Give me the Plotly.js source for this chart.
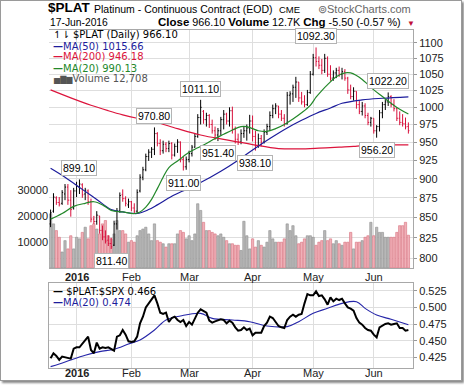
<!DOCTYPE html>
<html><head><meta charset="utf-8">
<script src="https://cdn.plot.ly/plotly-3.0.1.min.js"></script>
<style>
body{margin:0;background:#fff}
#wrap{position:relative;width:464px;height:387px;overflow:hidden}
#chart{position:absolute;left:0;top:0;width:464px;height:387px}
#frame{position:absolute;left:0;top:0;width:460px;height:379px;border:1px solid #9a9a9a;box-shadow:2px 2px 2px #8a8a8a;pointer-events:none}
</style>
</head><body>
<div id="wrap"><div id="chart"></div><div id="frame"></div></div>
<script>
// ---- trading days ----
const dec15=[18,21,22,23,24,28,29,30,31];
const jan16=[4,5,6,7,8,11,12,13,14,15,19,20,21,22,25,26,27,28,29];
const feb16=[1,2,3,4,5,8,9,10,11,12,16,17,18,19,22,23,24,25,26,29];
const mar16=[1,2,3,4,7,8,9,10,11,14,15,16,17,18,21,22,23,24,28,29,30,31];
const apr16=[1,4,5,6,7,8,11,12,13,14,15,18,19,20,21,22,25,26,27,28,29];
const may16=[2,3,4,5,6,9,10,11,12,13,16,17,18,19,20,23,24,25,26,27,31];
const jun16=[1,2,3,6,7,8,9,10,13,14,15,16,17];
const monthLabels=['<b>2016</b>','Feb','Mar','Apr','May','Jun'];

// ---- daily OHLC ($PLAT) ----
const opens=[842,858,875,869,868,880,889,872,862,884,889,892,880,884,870,848,845,852,834,826,822,818,816,842,858,879,874,866,870,862,
858,884,902,912,930,936,940,962,948,938,947,941,948,932,944,950,926,916,926,934,943,958,985,994,982,988,975,966,960,966,
982,990,980,995,968,954,950,962,966,970,980,958,945,955,950,964,972,988,998,1002,990,984,976,1018,1020,1030,1038,1014,1008,1004,
1022,1050,1076,1070,1064,1056,1075,1050,1044,1052,1056,1050,1054,1044,1026,1016,1024,1004,994,1002,988,978,984,966,972,992,1004,1008,1016,1004,
998,984,978,976,972];
const highs=[860,881,877,876,885,893,893,885,888,896,899.1,894,888,886,874,852,858,852,840,834,828,825,846,862,882,886,877,874,871,868,
886,906,916,934,940,943,970.8,964,954,952,950,952,950,948,954,951,930,930,938,946,962,990,1011.1,996,992,990,982,972,970,986,
996,992,1000,1001,972,962,968,972,975,989,988,966,962,960,968,976,994,1004,1006,1002,996,990,1023,1024,1034,1046,1038,1023,1018,1026,
1055,1082,1092.3,1078,1074,1082,1078,1064,1056,1060,1062,1060,1058,1046,1034,1030,1024,1010,1008,1006,992,986,984,974,996,1008,1012,1022.2,1018,1012,
1000,994,990,985,978];
const lows=[838,856,866,864,866,872,866,851,860,876,880,875,872,866,844,842,841,830,822,818,815,811.4,815,835,856,870,864,862,858,855,
855,882,898,910,924,928,932,944,932,934,936,936,926,930,935,922,911,912,922,930,942,956,975,976,972,970,962,953,951.4,960,
968,975,972,962,948,946,947,956,952,962,951,938.1,942,944,948,960,966,984,990,984,980,972,975,1004,1008,1014,1008,1004,1000,1002,
1020,1048,1062,1058,1050,1052,1046,1040,1040,1044,1046,1042,1040,1020,1012,1010,998,990,988,984,974,972,962,956.2,965,984,996,1002,1000,994,
980,974,972,968,962];
const closes=[856,876,869,867,882,889,872,860,884,890,893,879,885,870,848,845,853,834,826,821,818,814,842,858,878,874,868,870,862,858,
882,902,912,930,936,940,962,948,938,947,941,948,932,944,950,926,916,926,934,943,958,985,1000,982,988,975,966,960,966,982,
990,980,995,968,954,950,962,966,970,980,958,945,955,950,964,972,988,998,1002,990,984,976,1018,1020,1030,1038,1014,1008,1004,1022,
1050,1076,1070,1064,1056,1075,1050,1044,1052,1056,1050,1054,1044,1026,1016,1024,1004,994,1002,988,978,984,966,972,992,1004,1008,1016,1004,998,
984,978,976,971.6,966.1];
const volumes=[21000,17100,14500,11900,6200,10600,7400,12500,7400,11900,
11300,13800,15800,11300,16400,17100,15100,13200,17100,18400,
12500,11300,13200,18400,14500,14500,13200,10000,10600,10000,
12500,14500,15100,15800,13200,10600,17100,10600,10000,9400,
8100,9400,9400,9400,13200,14500,13800,11300,12500,10600,
13200,24900,22300,17700,14500,14500,13800,13200,12500,13200,
11900,10600,9400,9400,8800,8800,6800,18100,12500,7400,
11300,8100,10600,8800,8100,10000,14500,11300,10000,10000,
10000,11300,17100,14500,16400,12500,9400,10000,11300,12500,
12500,11900,8800,10000,10600,14500,10600,11300,9400,10600,
9400,8800,10000,10000,13800,7400,10000,10000,10600,11900,
12500,17700,12500,15800,13800,13800,11900,11900,11900,11900,
13800,16400,16400,17700,12708];

// ---- moving averages (day index, value) ----
const ma50Idx=[0,5,11,16,21,25,30,34,37,42,47,52,59,65,70,76,82,87,92,97,101,108,115,124];
const ma50Val=[914,902,886,873,860,857,855,860,866,877,886,895,910,925,939,955,970,981,991,999,1006,1011,1013.5,1015.66];
const ma200Idx=[0,7,14,20,25,30,36,44,52,61,70,79,86,93,100,105,113,118,124];
const ma200Val=[1026,1014,1003,995,989,984,979,969,960,953,946.5,941,940.5,941.5,943,944,946.5,946,946.18];
const ma20Idx=[0,4,8,12,15,18,21,25,29,31,33,35,37,39,41,44,46,48,51,54,57,60,63,66,68,70,72,75,78,81,84,87,90,92,94,96,99,102,104,106,108,110,112,115,118,121,124];
const ma20Val=[848,855,864,868,870,866,859,857,855,857,863,873,887,902,915,924,930,936,942,948,955,961,967,972,972,969,966,965,969,975,983,992,1003,1015,1025,1034,1046,1052,1052,1048,1042,1034,1026,1016,1006,997,990.13];

// ---- $PLAT:$SPX ratio ----
const ratio=[0.4235,0.431,0.427,0.421,0.426,0.425,0.424,0.423,0.438,0.440,
0.440,0.445,0.450,0.456,0.436,0.431,0.447,0.438,0.440,0.439,
0.440,0.437,0.435,0.456,0.458,0.466,0.459,0.449,0.448,0.449,
0.456,0.476,0.486,0.500,0.506,0.512,0.518,0.506,0.492,0.490,
0.492,0.478,0.484,0.486,0.481,0.478,0.481,0.472,0.478,0.474,
0.483,0.492,0.497,0.494,0.492,0.480,0.477,0.479,0.481,0.482,
0.481,0.476,0.480,0.477,0.470,0.465,0.466,0.470,0.466,0.468,
0.458,0.462,0.462,0.462,0.472,0.477,0.486,0.484,0.478,0.472,
0.470,0.469,0.481,0.486,0.489,0.486,0.489,0.490,0.506,0.520,
0.518,0.518,0.524,0.517,0.518,0.512,0.504,0.515,0.509,0.513,
0.511,0.513,0.506,0.500,0.498,0.495,0.484,0.477,0.474,0.469,
0.466,0.465,0.459,0.455,0.470,0.473,0.475,0.476,0.474,0.475,
0.476,0.469,0.469,0.465,0.466];
const rmaIdx=[0,3,7,12,17,22,27,31,36,40,45,52,56,63,69,75,82,86,91,96,101,106,109,113,118,124];
const rmaVal=[0.411,0.415,0.421,0.428,0.4335,0.437,0.445,0.451,0.466,0.481,0.487,0.491,0.4835,0.481,0.4785,0.472,0.471,0.4785,0.491,0.4985,0.506,0.5085,0.4985,0.4885,0.482,0.474];

// labelled highs / lows
const markIdx=[10,21,36,46,52,58,71,92,113,117];
const markType=['H','L','H','L','H','L','L','H','L','H'];

const priceTicks=[800,825,850,875,900,925,950,975,1000,1025,1050,1075,1100];
const ratioTicks=[0.425,0.45,0.475,0.5,0.525];
const volTicks=[10000,20000,30000];

// ---- build ----
const pad=n=>(n<10?'0':'')+n;
const dates=[].concat(
  dec15.map(d=>'2015-12-'+pad(d)), jan16.map(d=>'2016-01-'+pad(d)), feb16.map(d=>'2016-02-'+pad(d)),
  mar16.map(d=>'2016-03-'+pad(d)), apr16.map(d=>'2016-04-'+pad(d)), may16.map(d=>'2016-05-'+pad(d)), jun16.map(d=>'2016-06-'+pad(d)));
const idx=dates.map((d,i)=>i);
const monthIdx=[];
dates.forEach((d,i)=>{ if(i>0 && d.slice(5,7)!==dates[i-1].slice(5,7)) monthIdx.push(i); });
const monthTicks=[9].concat(monthIdx.slice(1));

const up=closes.map((c,i)=> i===0 ? c>=opens[i] : c>=closes[i-1]);
const RED='#d8103c', BLK='#000000';
function sel(arr,flag){return arr.filter((v,i)=>up[i]===flag);}

const F='Liberation Sans, Arial, sans-serif';
const FV='DejaVu Sans, Verdana, sans-serif';
const xr=[-0.55,125.6];

const traces=[];
traces.push({type:'bar',x:idx,y:volumes,xaxis:'x',yaxis:'y',width:0.8,
  marker:{color:up.map(u=>u?'#b9b9b9':'#f0b0b8'),line:{color:up.map(u=>u?'#8e8e8e':'#d8707e'),width:0.6}},
  hoverinfo:'skip',showlegend:false});
traces.push({type:'scatter',mode:'lines',x:ma200Idx,y:ma200Val,xaxis:'x',yaxis:'y2',line:{color:'#dc143c',width:1.2,shape:'spline'},hoverinfo:'skip',showlegend:false});
traces.push({type:'scatter',mode:'lines',x:ma50Idx,y:ma50Val,xaxis:'x',yaxis:'y2',line:{color:'#1c1c9c',width:1.2,shape:'spline'},hoverinfo:'skip',showlegend:false});
traces.push({type:'scatter',mode:'lines',x:ma20Idx,y:ma20Val,xaxis:'x',yaxis:'y2',line:{color:'#23882a',width:1.2,shape:'spline'},hoverinfo:'skip',showlegend:false});
[true,false].forEach(flag=>{
  const c=flag?BLK:RED;
  traces.push({type:'ohlc',x:sel(idx,flag),open:sel(opens,flag),high:sel(highs,flag),low:sel(lows,flag),close:sel(closes,flag),
    xaxis:'x',yaxis:'y2',tickwidth:0.35,increasing:{line:{color:c,width:1}},decreasing:{line:{color:c,width:1}},hoverinfo:'skip',showlegend:false});
});
traces.push({type:'scatter',mode:'lines',x:rmaIdx,y:rmaVal,xaxis:'x2',yaxis:'y3',line:{color:'#2525a8',width:1.1,shape:'spline'},hoverinfo:'skip',showlegend:false});
traces.push({type:'scatter',mode:'lines',x:idx,y:ratio,xaxis:'x2',yaxis:'y3',line:{color:'#000',width:2},hoverinfo:'skip',showlegend:false});

const grid='#dedede', axl='#a8a8a8';
const xcommon={range:xr,tickvals:monthTicks,showticklabels:false,showgrid:true,gridcolor:grid,gridwidth:1,
  zeroline:false,showline:true,mirror:true,linecolor:axl,ticks:'',fixedrange:true,rangeslider:{visible:false}};

const ann=[];
function txt(x,y,text,opts){ann.push(Object.assign({xref:'paper',yref:'paper',x:(x-49)/364,y:(368-y)/338,text:text,showarrow:false,xanchor:'left',yanchor:'middle',font:{family:F,size:11,color:'#000'}},opts||{}));}
txt(46,8,'<b>$PLAT</b>',{font:{family:F,size:13.5,color:'#000'}});
txt(92,9,'Platinum - Continuous Contract (EOD)',{font:{family:F,size:10.5,color:'#000'}});
txt(277,9.5,'CME',{font:{family:F,size:9.5,color:'#000'}});
txt(413,9,'⊚StockCharts.com',{xanchor:'right',font:{family:F,size:11,color:'#666'}});
txt(48,22.5,'17-Jun-2016',{font:{family:F,size:10.3,color:'#000'}});
txt(403,22.5,'<b style="font-size:11.5px">Close</b> 966.10 <b style="font-size:11.5px">Volume</b> 12.7K <b style="font-size:11.5px">Chg</b> -5.50 (-0.57 %)',{xanchor:'right',font:{family:F,size:10.8,color:'#000'}});
txt(405,23,'▼',{font:{family:F,size:8,color:'#c0103a'}});
txt(51,35,'↿⇂ $PLAT (Daily) 966.10',{font:{family:FV,size:10,color:'#000'}});
txt(51,46,'<b>—</b>MA(50) 1015.66',{font:{family:FV,size:10,color:'#1c1c9c'}});
txt(51,57,'<b>—</b>MA(200) 946.18',{font:{family:FV,size:10,color:'#dc143c'}});
txt(51,68,'<b>—</b>MA(20) 990.13',{font:{family:FV,size:10,color:'#23882a'}});
txt(51,79,'<span style="font-size:8px">▅▇▆</span>Volume 12,708',{font:{family:FV,size:10,color:'#555'}});
txt(51,291,'<b>—</b> $PLAT:$SPX 0.466',{font:{family:FV,size:10,color:'#000'}});
txt(51,302,'<b>—</b>MA(20) 0.474',{font:{family:FV,size:10,color:'#1c1c9c'}});
// month labels under both panels
monthTicks.forEach((m,k)=>{
  [['x',(368-276.5)/338],['x2',(368-373)/338]].forEach(([xa,yp])=>{
    ann.push({xref:xa,yref:'paper',x:m,y:yp,text:monthLabels[k],showarrow:false,xanchor:'center',yanchor:'middle',
      font:{family:F,size:11,color:'#222'}});
  });
});
markIdx.forEach((i,k)=>{
  const isH=markType[k]==='H';
  const v=isH?highs[i]:lows[i];
  ann.push({xref:'x',yref:'y2',x:i,y:Math.log10(v),text:v.toFixed(2),showarrow:false,
    yshift:isH?11:-12,bgcolor:'#fff',bordercolor:'#b4b4b4',borderwidth:1,borderpad:1,
    font:{family:F,size:10.5,color:'#000'}});
});

const layout={
  width:464,height:387,margin:{l:49,r:51,t:30,b:19},
  paper_bgcolor:'rgba(0,0,0,0)',plot_bgcolor:'#fff',showlegend:false,
  xaxis:Object.assign({},xcommon,{domain:[0,1],anchor:'y'}),
  yaxis:{domain:[0.2959,1],range:[0,92250],side:'left',tickvals:volTicks,ticktext:volTicks.map(String),
    showgrid:false,zeroline:false,showline:false,ticks:'',tickfont:{family:F,size:11,color:'#222'},fixedrange:true},
  yaxis2:{overlaying:'y',type:'log',range:[Math.log10(789),Math.log10(1120.8)],side:'right',anchor:'x',
    tickvals:priceTicks,ticktext:priceTicks.map(String),showgrid:true,gridcolor:grid,zeroline:false,
    showline:true,linecolor:axl,ticks:'outside',ticklen:3,tickcolor:'#999',tickfont:{family:F,size:11,color:'#222'},fixedrange:true},
  xaxis2:Object.assign({},xcommon,{domain:[0,1],anchor:'y3'}),
  yaxis3:{domain:[0,0.2515],range:[0.4089,0.5366],side:'right',anchor:'x2',tickvals:ratioTicks,ticktext:ratioTicks.map(v=>v.toFixed(3)),
    showgrid:true,gridcolor:grid,zeroline:false,showline:true,mirror:true,linecolor:axl,ticks:'outside',ticklen:3,tickcolor:'#999',
    tickfont:{family:F,size:11,color:'#222'},fixedrange:true},
  annotations:ann
};
Plotly.newPlot('chart',traces,layout,{displayModeBar:false,staticPlot:true});
</script>
</body></html>
